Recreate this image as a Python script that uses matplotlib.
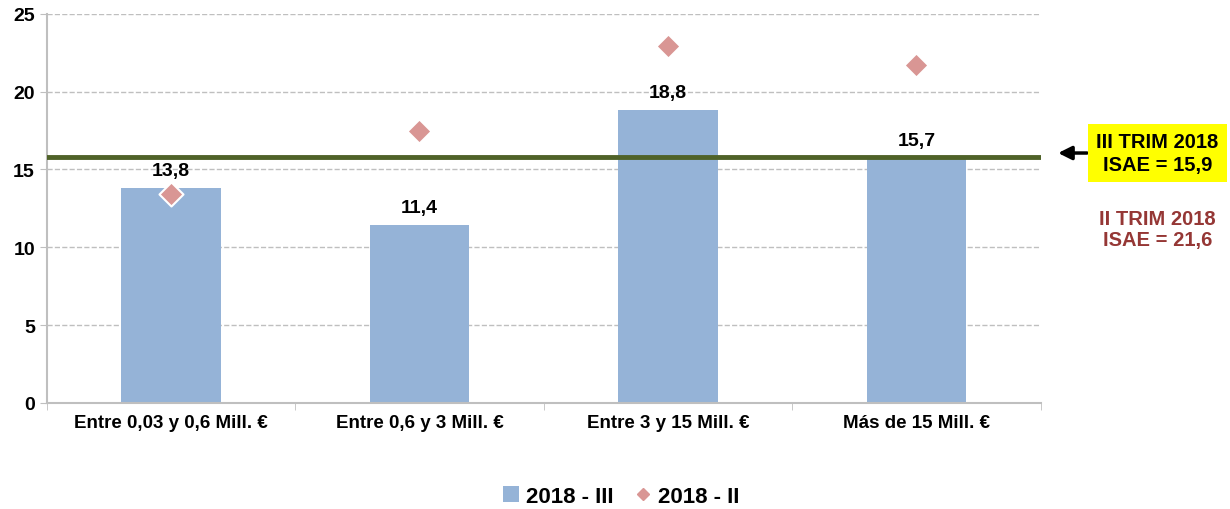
import matplotlib
matplotlib.use('Agg')
import matplotlib.pyplot as plt
from matplotlib.lines import Line2D
from matplotlib.patches import Patch

plt.rcParams['font.family'] = ['Liberation Sans', 'DejaVu Sans']
plt.rcParams['font.weight'] = 'bold'

# datos
categorias = ['Entre 0,03 y 0,6 Mill. €', 'Entre 0,6 y 3 Mill. €',
              'Entre 3 y 15 Mill. €', 'Más de 15 Mill. €']
trim_iii = [13.8, 11.4, 18.8, 15.7]
trim_ii = [13.4, 17.5, 22.9, 21.7]
isae_iii = 15.8
etiquetas = ['13,8', '11,4', '18,8', '15,7']

fig = plt.figure(figsize=(12.3, 5.1), dpi=100)
ax = fig.add_axes([0.038, 0.208, 0.808, 0.763])

x = list(range(len(categorias)))
ax.bar(x, trim_iii, width=0.4, color='#95B3D7', zorder=2)
ax.scatter(x, trim_ii, marker='D', s=150, color='#D99694', edgecolor='white',
           linewidth=1.5, zorder=4)
ax.axhline(isae_iii, color='#4F6228', linewidth=3.5, zorder=3)

for xi, v, t in zip(x, trim_iii, etiquetas):
    ax.text(xi, v + 0.6, t, ha='center', va='bottom', fontsize=14,
            fontweight='bold', zorder=5)

ax.set_xlim(-0.5, 3.5)
ax.set_ylim(0, 25)
ax.set_yticks([0, 5, 10, 15, 20, 25])
ax.set_xticks(x)
ax.set_xticklabels(categorias, fontsize=13.5, fontweight='bold')
ax.tick_params(axis='y', labelsize=14, length=5, color='#BFBFBF')
ax.tick_params(axis='x', length=0, pad=8)
ax.set_xticks([-0.5, 0.5, 1.5, 2.5, 3.5], minor=True)
ax.tick_params(axis='x', which='minor', length=5, color='#BFBFBF')
ax.grid(axis='y', linestyle='--', color='#BFBFBF', linewidth=1, zorder=0)
for s in ['top', 'right']:
    ax.spines[s].set_visible(False)
ax.spines['left'].set_color('#BFBFBF')
ax.spines['bottom'].set_color('#BFBFBF')
ax.spines['left'].set_linewidth(1.5)
ax.spines['bottom'].set_linewidth(1.5)

# anotaciones laterales
fig.text(0.941, 0.698, 'III TRIM 2018\nISAE = 15,9', ha='center', va='center',
         fontsize=14.5, fontweight='bold', linespacing=1.25,
         bbox=dict(boxstyle='square,pad=0.4', facecolor='#FFFF00', edgecolor='none'))
fig.text(0.941, 0.549, 'II TRIM 2018\nISAE = 21,6', ha='center', va='center',
         fontsize=14.5, fontweight='bold', color='#953735', linespacing=1.1)
fig.add_artist(plt.Annotation('', xy=(0.858, 0.698), xytext=(0.886, 0.698),
                              xycoords='figure fraction',
                              arrowprops=dict(arrowstyle='-|>', color='black',
                                              lw=2.5, mutation_scale=20)))

handles = [Patch(facecolor='#95B3D7'),
           Line2D([], [], marker='D', linestyle='none', color='#D99694', markersize=6)]
fig.legend(handles, ['2018 - III', '2018 - II'], loc='center', ncol=2,
           bbox_to_anchor=(0.505, 0.025), frameon=False, fontsize=16,
           handlelength=0.7, handletextpad=0.3, columnspacing=1.0)

fig.savefig('out.png', dpi=100)
